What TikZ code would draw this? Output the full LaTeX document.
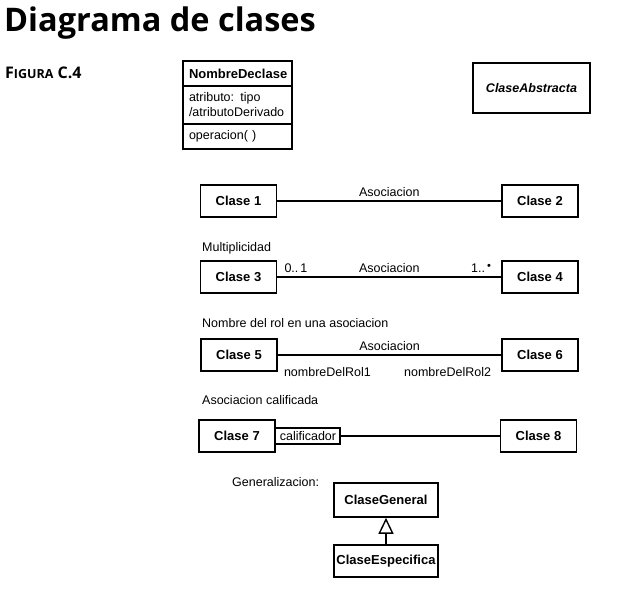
\documentclass[tikz,border=0pt]{standalone}
\usepackage{fontspec}
\setmainfont{Liberation Sans}
\newfontfamily\titlefont{Open Sans}
\usetikzlibrary{positioning,arrows.meta}

\begin{document}
\begin{tikzpicture}[x=1pt,y=-1pt,
  clase/.style={draw,line width=1.6pt,font=\fontsize{13}{15}\selectfont\bfseries,minimum width=76pt,minimum height=32pt,inner sep=2pt},
  texto/.style={font=\fontsize{12.5}{15}\selectfont,inner sep=0pt},
  compartimento/.style={draw,line width=1.4pt,outer sep=0pt,inner xsep=6pt,inner ysep=0pt,text width=97pt,align=left,font=\fontsize{12.5}{15}\selectfont},
  linea/.style={line width=1.1pt}]
\useasboundingbox (0,0) rectangle (625,608);

\node[anchor=base west,inner sep=0pt,font=\titlefont\bfseries\fontsize{32.5}{36}\selectfont] (titulo) at (4,31) {Diagrama de clases};
\node[anchor=base west,inner sep=0pt,font=\titlefont\bfseries\fontsize{16}{18}\selectfont] (figura) at (5,78) {F{\fontsize{12.5}{14}\selectfont IGURA} C.4};

\node[compartimento,minimum height=25pt,align=center,font=\fontsize{13}{15}\selectfont\bfseries] (nombre) at (237.5,73.5) {NombreDeclase};
\node[compartimento,minimum height=38pt,below=0pt of nombre] (atributos) {atributo: tipo\\/atributoDerivado};
\node[compartimento,minimum height=25pt,below=0pt of atributos] (operaciones) {operacion( )};

\node[draw,line width=1.6pt,minimum width=117pt,minimum height=50pt,font=\fontsize{12.5}{15}\selectfont\bfseries\itshape] (abstracta) at (531.5,88) {ClaseAbstracta};

\node[clase] (c1) at (238.5,201) {Clase 1};
\node[clase] (c2) at (540,201) {Clase 2};
\draw[linea] (c1) -- node[texto,above=4pt] {Asociacion} (c2);

\node[texto,anchor=west] (multi) at (202,248) {Multiplicidad};
\node[clase] (c3) at (238.5,277) {Clase 3};
\node[clase] (c4) at (540,277) {Clase 4};
\draw[linea] (c3) -- node[texto,above=4pt] {Asociacion} (c4);
\node[texto,above right=4pt and 7pt of c3.east] (m1) {0..\,1};
\node[texto,above left=4pt and 10pt of c4.west] (m2) {1..\,\raisebox{3pt}{\fontsize{11}{11}\selectfont•}};

\node[texto,anchor=west] (rol) at (202,323) {Nombre del rol en una asociacion};
\node[clase] (c5) at (239,355) {Clase 5};
\node[clase] (c6) at (540,355) {Clase 6};
\draw[linea] (c5) -- node[texto,above=4pt] {Asociacion} (c6);
\node[texto,below right=12pt and 6pt of c5.east] (r1) {nombreDelRol1};
\node[texto,below left=12pt and 10pt of c6.west] (r2) {nombreDelRol2};

\node[texto,anchor=west] (calif) at (202,400) {Asociacion calificada};
\node[clase] (c7) at (237,436) {Clase 7};
\node[draw,line width=1.3pt,outer sep=0pt,inner xsep=4pt,inner ysep=0pt,minimum height=16pt,font=\fontsize{12.5}{15}\selectfont,right=0pt of c7.east] (q) {calificador};
\node[clase] (c8) at (538.5,436) {Clase 8};
\draw[linea] (q) -- (c8);

\node[texto,anchor=west] (gen) at (232,482) {Generalizacion:};
\node[clase,minimum width=104pt,minimum height=34pt] (general) at (386,500) {ClaseGeneral};
\node[clase,minimum width=104pt] (especifica) at (386,561) {ClaseEspecifica};
\draw[linea,-{Triangle[open,length=16pt,width=15pt,line width=1.4pt]}] (especifica) -- (general);

\end{tikzpicture}
\end{document}
